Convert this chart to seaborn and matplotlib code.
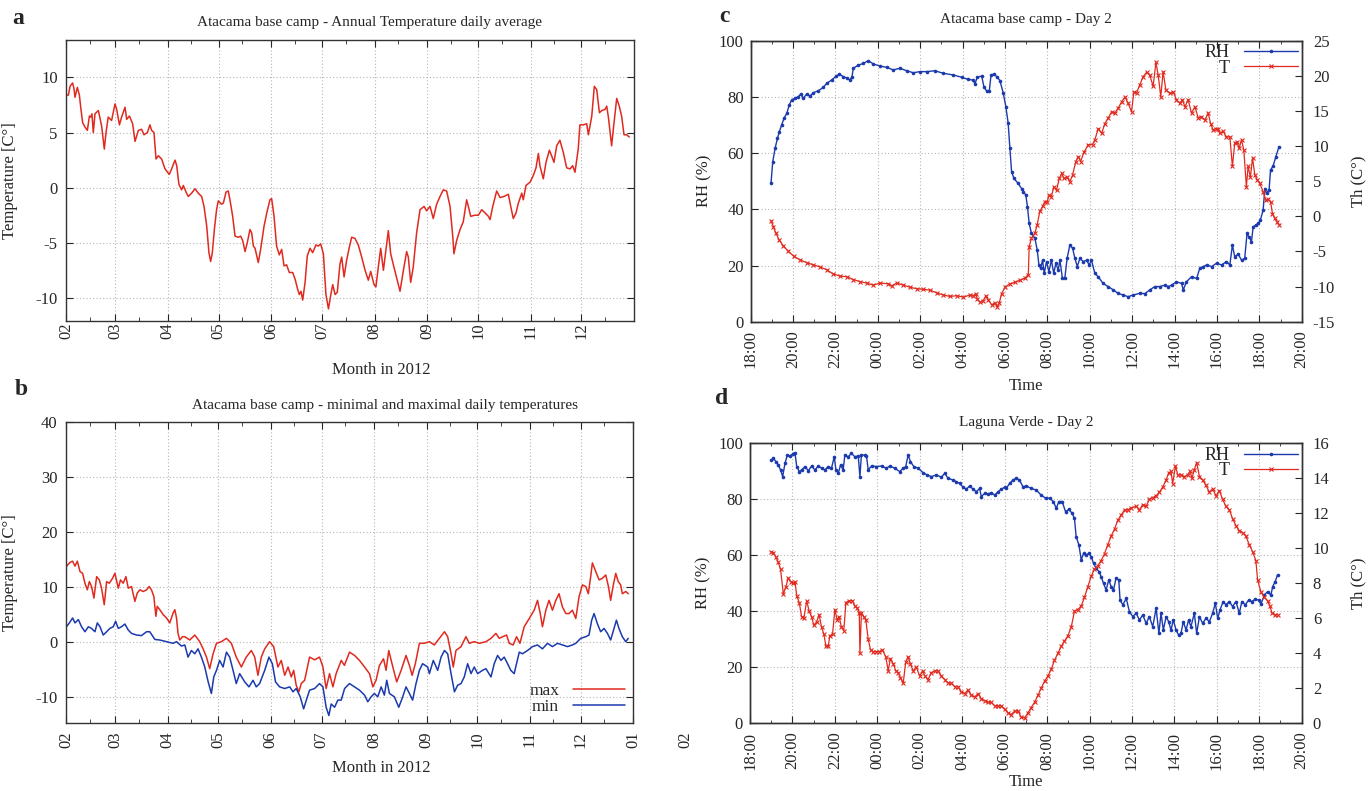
import numpy as np
import pandas as pd
import matplotlib
matplotlib.use("Agg")
import matplotlib.pyplot as plt
import matplotlib.transforms as mtransforms
from matplotlib.lines import Line2D
import seaborn as sns

# ---------------- data: panel a (daily average, days since 2012-02-01) -------------
a_day = [0, 1.4, 2.4, 3.9, 4.7, 5.3, 6.7, 7.9, 8.6, 9.8,
         11.2, 12.6, 13.8, 14.5, 15.3, 16.1, 17.1, 19.1, 21.0, 22.6,
         23.6, 24.9, 26.9, 28.9, 29.9, 31.5, 32.8, 34.8, 35.8, 37.4,
         39.3, 40.7, 42.7, 44.6, 46.0, 48.0, 49.5, 50.5, 51.9, 53.1,
         54.5, 56.4, 58.4, 60.9, 62.3, 64.3, 65.3, 66.6, 68.2, 69.2,
         70.8, 72.1, 74.1, 76.1, 78.0, 80.0, 81.4, 83.0, 84.3, 85.3,
         86.3, 87.5, 88.8, 89.8, 91.8, 92.8, 94.4, 95.7, 96.7, 98.3,
         99.7, 101.6, 103.0, 104.2, 105.6, 106.9, 108.5, 109.5, 110.5, 111.5,
         113.4, 114.8, 116.8, 118.4, 120.3, 121.3, 122.7, 124.2, 125.8, 127.2,
         128.6, 130.1, 131.7, 133.7, 135.1, 136.6, 137.6, 138.6, 139.6, 141.0,
         142.3, 143.9, 145.5, 147.4, 148.8,
         150.2, 151.8, 153.3, 154.8, 156.2, 157.3, 158.7, 160.0, 161.6, 162.6,
         164.0, 165.5, 167.1, 168.5, 170.4, 172.4, 174.4, 176.4, 178.3, 179.7,
         181.7, 182.8, 184.2, 185.6, 187.2, 188.7, 190.1, 191.5, 193.4, 195.4,
         197.0, 199.0, 200.9, 201.9, 203.3, 204.8, 206.8, 208.8, 211.2, 212.7,
         214.7, 216.6, 218.6, 220.6, 222.5, 224.5, 226.5, 228.1, 228.8, 230.4,
         232.4, 234.3, 236.3, 237.3, 238.7, 241.2, 243.2, 245.2, 247.2, 249.1,
         250.1, 251.7, 254.0, 256.0, 258.3, 260.9, 262.3, 263.8, 265.4, 266.8,
         268.8, 269.7, 271.3, 273.7, 275.6, 277.2, 278.6, 279.5, 281.5, 283.1,
         285.1, 286.4, 287.8, 289.4, 291.3, 293.3, 295.3, 297.3, 298.8, 300.2,
         302.1, 303.1, 305.1,
         307.1, 308.1, 310.1, 311.6, 313.0, 314.6, 316.0, 317.9, 318.9, 319.9,
         320.9, 321.8, 322.8, 324.8, 326.3, 327.7, 329.1, 330.7, 332.2]
a_temp = [8.4, 8.4, 9.2, 9.5, 9.0, 8.2, 9.1, 8.4, 7.4, 5.9,
          5.5, 5.2, 6.5, 6.4, 6.7, 5.0, 6.7, 7.0, 5.6, 3.5,
          5.0, 6.4, 6.1, 7.6, 7.1, 5.7, 6.4, 7.3, 6.2, 6.5,
          5.8, 4.2, 5.2, 5.3, 4.8, 5.0, 5.7, 5.2, 5.0, 2.6,
          2.9, 2.6, 1.7, 1.2, 1.7, 2.5, 2.0, 0.3, -0.2, 0.2,
          -0.4, -0.8, -0.5, -0.1, -0.5, -0.8, -1.7, -3.5, -5.9, -6.7,
          -5.9, -3.8, -2.0, -1.2, -1.5, -1.4, -0.4, -0.3, -1.1, -2.6,
          -4.4, -4.5, -4.4, -4.8, -5.8, -5.0, -3.8, -4.1, -5.3, -5.5,
          -6.8, -5.6, -3.5, -2.3, -1.1, -1.0, -2.6, -5.3, -6.1, -5.6,
          -7.1, -7.0, -7.7, -7.7, -8.3, -9.2, -9.7, -9.4, -10.2, -8.6,
          -6.2, -5.5, -5.9, -5.2, -5.3,
          -5.1, -6.0, -9.7, -11.0, -9.7, -8.8, -9.7, -9.5, -6.9, -6.3,
          -8.1, -6.6, -5.4, -4.5, -4.6, -5.2, -6.3, -7.5, -8.4, -7.6,
          -8.8, -9.0, -7.2, -5.5, -7.5, -5.6, -3.9, -6.0, -7.2, -8.4,
          -9.4, -7.5, -5.8, -6.3, -8.6, -7.2, -4.1, -2.0, -1.7, -2.1,
          -1.7, -2.8, -1.5, -0.8, -0.2, -0.3, -1.7, -4.4, -6.0, -4.8,
          -3.8, -3.1, -1.1, -1.7, -2.6, -2.5, -2.5, -2.0, -2.3, -2.6,
          -2.9, -1.7, -0.3, -0.9, -0.8, -0.6, -1.7, -2.8, -2.3, -1.4,
          -0.5, -1.1, 0.2, 0.5, 1.1, 1.8, 3.1, 2.0, 0.8, 2.3,
          3.4, 2.9, 2.3, 3.8, 4.3, 3.2, 1.8, 1.7, 2.0, 1.4,
          3.5, 5.7, 5.7,
          5.8, 4.8, 6.5, 9.2, 8.9, 6.8, 7.0, 7.1, 7.4, 6.4,
          5.0, 3.8, 5.3, 8.1, 7.4, 6.5, 4.8, 4.8, 4.6]

# ---------------- data: panel b (daily max / min) -------------
b_max_day = [0.4, 2.4, 3.9, 5.3, 6.7, 8.3, 9.8, 11.2, 12.6, 13.8,
             15.1, 16.5, 18.1, 19.7, 21.0, 22.6, 24.0, 25.6, 27.5, 28.9,
             30.9, 32.2, 33.8, 35.4, 36.8, 38.7, 40.7, 42.1, 43.6, 45.6,
             47.6, 49.1, 50.5, 51.9, 53.1, 53.9, 55.4, 57.4, 59.4, 61.3,
             63.3, 64.3, 65.3, 66.2, 67.2, 68.8, 70.2, 73.1, 76.1, 79.0,
             81.0, 83.0, 84.9, 86.9, 88.9, 91.8, 94.8, 97.7, 100.6, 103.6,
             106.5, 109.5, 111.5, 113.4, 115.4, 117.4, 120.3, 122.7, 125.2, 127.2,
             129.2, 131.2, 133.1, 134.5, 136.0, 137.6, 139.0, 141.0,
             143.9, 146.9, 149.8, 151.8, 153.7, 155.7, 157.7, 159.6, 162.6, 164.5,
             167.5, 170.5, 173.4, 176.4, 179.3, 181.3, 183.2, 185.2, 187.6, 189.1,
             190.7, 193.1, 195.4, 198.0, 200.9, 202.9, 204.5, 206.4, 208.8, 211.7,
             214.7, 217.6, 220.6, 223.6, 225.5, 227.5, 228.8, 230.4, 233.4, 236.3,
             238.3, 241.2, 244.2, 248.1, 251.1, 254.0, 256.0, 258.0, 260.3, 261.9,
             264.2, 266.2, 268.2, 270.7, 273.7, 276.6, 278.6, 280.2, 281.5, 283.5,
             285.4, 287.4, 289.4, 291.3, 293.3, 295.3, 297.2, 299.2, 301.2, 303.1,
             305.1, 307.1, 308.6, 310.0, 311.0, 313.0, 315.0, 316.9, 318.9, 320.5,
             321.8, 323.2, 324.8, 326.3, 327.7, 328.7, 330.7, 332.2]
b_max = [13.8, 14.5, 14.7, 13.8, 14.7, 12.8, 12.5, 10.7, 9.5, 11.0,
         10.1, 8.0, 11.9, 11.3, 9.8, 6.8, 11.0, 10.7, 11.6, 12.5,
         9.8, 11.3, 10.7, 11.9, 9.8, 10.1, 7.4, 8.9, 9.5, 9.2,
         9.5, 10.1, 9.5, 8.3, 4.7, 6.5, 5.9, 5.0, 4.4, 3.5,
         5.3, 5.9, 4.4, 1.6, 0.4, 1.0, 1.0, 0.4, 1.3, 0.1,
         -1.2, -2.7, -4.8, -2.1, -0.2, 0.1, 0.7, -0.2, -2.7, -4.5,
         -2.7, -1.5, -2.7, -6.0, -2.7, -1.2, 0.1, -0.8, -4.5, -3.3,
         -6.0, -4.5, -6.3, -5.1, -7.8, -9.0, -7.5, -6.9,
         -2.7, -3.2, -2.7, -4.5, -8.4, -5.7, -8.1, -5.7, -3.3, -4.2,
         -1.8, -2.4, -3.3, -4.5, -5.7, -8.1, -6.9, -4.2, -3.0, -5.1,
         -1.5, -4.5, -7.2, -5.1, -2.4, -4.2, -6.0, -3.9, -0.2, -0.2,
         0.1, -0.5, 0.7, 1.9, 1.0, -2.1, -4.5, -1.5, -0.8, 1.0,
         -0.2, 0.1, -0.2, 0.1, 0.7, 1.6, 0.7, 1.0, 1.3, -0.2,
         -0.5, 1.0, -0.2, 2.8, 4.3, 5.8, 7.6, 5.2, 2.8, 5.8,
         7.6, 5.8, 7.6, 8.8, 6.4, 5.2, 5.2, 5.8, 4.3, 8.2,
         10.4, 10.1, 8.8, 11.9, 14.4, 12.8, 11.3, 11.6, 12.2, 10.1,
         7.6, 10.1, 12.5, 11.0, 10.4, 8.8, 9.2, 8.8]

b_min_day = [0, 2.0, 3.9, 5.3, 7.3, 9.2, 11.2, 13.2, 15.1, 17.1,
             18.5, 20.1, 22.0, 24.0, 25.9, 27.9, 29.3, 30.9, 32.8, 34.8,
             36.8, 38.7, 41.7, 44.6, 47.6,
             49.5, 52.5, 55.4, 59.4, 63.3, 65.3, 68.2, 70.2, 72.1, 74.1,
             76.1, 78.0, 80.0, 82.0, 84.0, 85.9, 87.3, 88.9, 90.8, 92.8,
             94.8, 96.7, 98.7, 100.6, 102.6, 105.6, 108.1, 110.5, 112.4, 114.4,
             117.4, 119.9, 121.9, 123.8, 126.2, 129.2, 132.2, 134.1, 136.0, 138.4,
             140.4, 142.0, 143.9, 146.9, 149.8, 151.8, 153.7, 155.3, 156.7, 158.7,
             160.6, 162.6, 164.6, 167.5, 170.5, 173.4, 176.4, 178.3, 180.3, 182.2,
             184.2, 186.2, 188.1, 189.5, 191.1, 194.0, 196.6, 198.6, 200.9, 202.9,
             204.8, 206.8, 208.8, 210.7, 213.7,
             214.7, 217.0, 219.6, 221.6, 223.6, 225.5, 227.5, 229.5, 231.4, 233.4,
             235.3, 237.3, 239.3, 241.2, 243.2, 246.1, 248.1, 251.1, 253.0, 255.0,
             257.0, 258.9, 260.9, 262.8, 264.8, 266.2, 267.8, 269.7, 272.7, 275.6,
             278.6, 281.5, 284.5, 287.4, 290.4, 293.3, 296.3, 299.2, 301.2, 304.1,
             307.1, 309.0, 310.6, 312.0, 313.9, 315.9, 317.9, 319.9, 321.8, 323.8,
             325.2, 326.7, 328.7, 330.7, 332.2]
b_min = [2.7, 3.5, 4.4, 3.5, 4.1, 2.8, 1.9, 2.8, 2.5, 1.9,
         3.5, 2.8, 1.3, 1.9, 2.5, 2.8, 3.8, 2.5, 2.8, 3.3,
         2.2, 1.6, 1.3, 1.2, 1.9,
         1.9, 0.5, 0.4, 0.1, -0.2, 0.1, -0.7, -0.5, -2.7, -1.5,
         -2.1, -1.2, -2.7, -4.5, -7.2, -9.3, -6.3, -5.1, -3.3, -4.5,
         -1.8, -2.7, -5.1, -7.5, -5.7, -7.2, -8.1, -6.9, -8.1, -7.5,
         -5.1, -2.7, -3.9, -7.2, -8.1, -8.4, -8.1, -9.0, -8.4, -9.9,
         -12.1, -10.5, -8.7, -8.4, -7.5, -8.1, -11.8, -13.3, -11.2, -11.8,
         -10.5, -10.5, -8.4, -7.5, -8.1, -8.7, -9.6, -10.8, -9.9, -9.3,
         -9.9, -8.1, -9.6, -6.9, -9.3, -9.9, -11.8, -10.2, -8.1, -9.3,
         -10.5, -7.5, -5.1, -3.9, -4.5,
         -5.7, -3.3, -5.1, -2.7, -1.5, -2.1, -5.7, -9.0, -7.8, -7.5,
         -6.3, -3.9, -5.7, -4.5, -5.7, -5.1, -4.8, -6.3, -3.9, -2.4,
         -3.3, -2.7, -3.9, -5.1, -5.7, -3.9, -1.8, -2.1, -1.5, -0.8,
         -0.5, -1.2, -0.2, -0.8, -0.2, -0.5, -0.8, -0.5, -0.2, 0.7,
         1.0, 1.3, 4.0, 5.2, 3.4, 1.9, 2.5, 1.6, 0.4, 2.5,
         4.0, 2.5, 1.0, 0.1, 0.7]

a_month_labels = ['02', '03', '04', '05', '06', '07', '08', '09', '10', '11', '12']
b_month_labels = ['02', '03', '04', '05', '06', '07', '08', '09', '10', '11', '12', '01']
b_extra_label = '02'

# ---------------- data: panel c (Atacama base camp, hours since 18:00) -------------
c_rh_h = [0.96, 1.04, 1.15, 1.26, 1.35, 1.46, 1.57, 1.70, 1.82, 1.93,
          2.09, 2.25, 2.36, 2.48, 2.64, 2.80, 2.96, 3.19, 3.43, 3.58,
          3.82, 4.03, 4.18, 4.37, 4.56, 4.69, 4.78, 4.84, 5.08, 5.31,
          5.55, 5.79, 6.10, 6.42, 6.73, 7.04, 7.36, 7.67, 7.99, 8.30,
          8.69, 9.09, 9.56, 9.95, 10.27, 10.50, 10.58, 10.69, 10.90, 11.01,
          11.13, 11.26, 11.34, 11.48, 11.64, 11.76, 11.92, 12.04, 12.15, 12.23,
          12.31, 12.42, 12.62, 12.78, 12.86, 12.98, 13.06, 13.14, 13.25, 13.41,
          13.52, 13.60, 13.68, 13.77, 13.85, 13.96, 14.07, 14.19, 14.30, 14.40,
          14.51, 14.59, 14.71, 14.82, 14.93, 15.06, 15.19, 15.30, 15.41, 15.53,
          15.69, 15.85, 15.97, 16.08, 16.24, 16.40, 16.63, 16.87, 17.11, 17.34,
          17.58, 17.81, 18.05, 18.36, 18.60, 18.83, 19.07, 19.30, 19.54, 19.70,
          19.86, 20.09, 20.33, 20.41, 20.56, 20.80, 21.04, 21.19, 21.35, 21.51,
          21.75, 21.98, 22.22, 22.45, 22.61, 22.73, 22.84, 23.00, 23.16, 23.31,
          23.42, 23.52, 23.63, 23.71, 23.84, 23.95, 24.05, 24.18, 24.26, 24.34,
          24.46, 24.53, 24.65, 24.78, 24.93]
c_rh = [49.5, 56.9, 61.7, 65.2, 67.6, 70.0, 72.4, 74.1, 77.1, 78.9,
        79.5, 80.1, 81.0, 79.5, 81.0, 80.3, 81.5, 82.2, 83.4, 84.8,
        86.0, 87.4, 88.1, 87.2, 86.6, 86.0, 87.2, 90.2, 91.3, 91.9,
        92.9, 91.7, 91.0, 90.5, 89.6, 90.2, 89.3, 88.6, 89.0, 89.0,
        89.3, 88.4, 87.8, 87.0, 86.2, 86.0, 84.6, 87.0, 87.4, 83.4,
        82.2, 82.2, 87.8, 88.1, 87.0, 85.8, 81.3, 76.5, 70.6, 61.7,
        53.4, 51.0, 49.2, 47.4, 46.3, 45.1, 40.9, 35.0, 31.4, 29.7,
        25.5, 20.2, 19.0, 21.9, 17.2, 21.4, 17.8, 21.9, 17.2, 20.8,
        18.4, 21.9, 15.4, 15.4, 22.5, 27.3, 26.1, 22.5, 19.6, 22.5,
        21.4, 21.9, 20.2, 21.9, 17.2, 16.0, 13.6, 12.5, 11.3, 10.1,
        9.5, 8.9, 9.5, 10.1, 10.0, 11.3, 12.5, 12.5, 13.0, 12.5,
        13.0, 14.2, 13.6, 11.3, 14.2, 16.0, 15.4, 19.0, 19.6, 20.2,
        19.6, 20.8, 20.2, 21.4, 20.2, 27.3, 23.1, 24.1, 21.9, 22.5,
        31.4, 30.0, 28.5, 33.8, 34.4, 35.0, 36.2, 39.7, 47.4, 45.7,
        46.9, 54.0, 55.4, 58.7, 62.3]
c_t_h = [0.96, 1.07, 1.19, 1.35, 1.54, 1.78, 2.04, 2.33, 2.64, 2.96,
         3.27, 3.58, 3.90, 4.21, 4.53, 4.84, 5.16, 5.47, 5.79, 6.10,
         6.49, 6.65, 6.89, 7.20, 7.52, 7.83, 8.14, 8.46, 8.77, 9.09,
         9.40, 9.72, 10.03, 10.35, 10.50, 10.63, 10.69, 10.82, 10.97, 11.10,
         11.21, 11.37, 11.53, 11.64, 11.73, 11.84, 12.00, 12.23, 12.47, 12.70,
         12.94, 13.10, 13.14, 13.25, 13.41, 13.52, 13.64, 13.77, 13.88, 13.99,
         14.08, 14.19, 14.30, 14.43, 14.56, 14.67, 14.78, 14.93, 15.06, 15.19,
         15.34, 15.46, 15.57, 15.72, 15.93, 16.13, 16.24, 16.40, 16.56, 16.71,
         16.87, 17.03, 17.18, 17.34, 17.50, 17.66, 17.81, 17.97, 18.08, 18.21,
         18.36, 18.52, 18.68, 18.83, 18.99, 19.12, 19.23, 19.35, 19.46, 19.59,
         19.78, 19.94, 20.09, 20.25, 20.37, 20.49, 20.64, 20.80, 20.96, 21.12,
         21.27, 21.43, 21.59, 21.70, 21.82, 21.95, 22.05, 22.14, 22.29, 22.45,
         22.61, 22.73, 22.84, 22.95, 23.05, 23.16, 23.27, 23.39, 23.47, 23.58,
         23.68, 23.79, 23.90, 24.02, 24.18, 24.31, 24.42, 24.53, 24.62, 24.73,
         24.84, 24.93]
c_t = [-0.6, -1.5, -2.4, -3.4, -4.2, -5.0, -5.7, -6.2, -6.6, -6.9,
       -7.2, -7.6, -8.2, -8.5, -8.6, -9.0, -9.3, -9.5, -9.8, -9.5,
       -9.6, -9.9, -9.5, -9.8, -10.1, -10.3, -10.4, -10.5, -10.9, -11.2,
       -11.4, -11.3, -11.5, -11.2, -11.3, -11.0, -11.8, -12.2, -12.0, -11.3,
       -11.9, -12.6, -12.3, -12.9, -12.3, -11.0, -10.1, -9.6, -9.4, -9.1,
       -8.8, -8.3, -4.3, -3.1, -2.4, -1.2, 0.7, 1.4, 2.1, 2.1,
       3.0, 2.8, 4.2, 3.7, 5.4, 6.1, 5.4, 5.6, 4.9, 5.9,
       7.8, 8.5, 7.8, 9.1, 10.2, 10.2, 10.9, 12.5, 11.8, 13.2,
       14.0, 14.9, 14.7, 15.4, 16.3, 17.0, 16.1, 14.9, 17.7, 17.6,
       18.7, 19.9, 20.5, 20.1, 18.5, 21.9, 20.1, 17.0, 20.6, 18.0,
       17.5, 17.7, 16.6, 16.1, 16.6, 15.6, 16.6, 14.7, 15.6, 14.0,
       14.2, 13.7, 14.7, 13.2, 12.3, 12.5, 12.5, 11.8, 12.1, 11.3,
       11.3, 7.1, 10.4, 10.6, 9.7, 10.9, 9.4, 4.2, 7.1, 5.6,
       8.3, 5.9, 5.2, 4.7, 3.5, 2.3, 2.4, 2.1, 0.4, -0.3,
       -0.8, -1.2]

# ---------------- data: panel d (Laguna Verde, hours since 18:00) -------------
d_rh_h = [0.99, 1.10, 1.22, 1.33, 1.44, 1.54, 1.65, 1.76, 1.88, 2.01,
          2.12, 2.20, 2.32, 2.43, 2.59, 2.75, 2.90, 3.06, 3.22, 3.37,
          3.53, 3.69, 3.84, 3.97, 4.05, 4.16, 4.27, 4.39, 4.47, 4.63,
          4.78, 4.94, 5.10, 5.18, 5.25, 5.41, 5.49, 5.57, 5.73, 5.96,
          6.20, 6.43, 6.59, 6.82, 7.06, 7.22, 7.34, 7.45, 7.56, 7.72,
          7.92, 8.16, 8.35, 8.55, 8.78, 9.02, 9.18, 9.33, 9.57, 9.73,
          9.88, 10.04, 10.20, 10.35, 10.51, 10.67, 10.82, 10.90, 11.06, 11.22,
          11.37, 11.53, 11.69, 11.84, 12.00, 12.08, 12.24, 12.39, 12.55, 12.70,
          12.86, 13.02, 13.25, 13.49, 13.72, 13.93, 14.12, 14.30, 14.43, 14.56,
          14.71, 14.87, 15.03, 15.18, 15.29, 15.37, 15.50, 15.61, 15.72, 15.84,
          15.97, 16.08, 16.19, 16.31, 16.44, 16.55, 16.66, 16.78, 16.91, 17.02,
          17.13, 17.25, 17.38, 17.44, 17.57, 17.73, 17.88, 18.04, 18.20, 18.35,
          18.51, 18.67, 18.82, 18.98, 19.14, 19.27, 19.37, 19.48, 19.61, 19.73,
          19.84, 19.95, 20.08, 20.20, 20.31, 20.42, 20.55, 20.67, 20.78, 20.94,
          21.05, 21.18, 21.33, 21.49, 21.65, 21.80, 21.93, 22.04, 22.15, 22.30,
          22.43, 22.59, 22.74, 22.90, 23.06, 23.18, 23.34, 23.50, 23.65, 23.81,
          23.97, 24.08, 24.24, 24.39, 24.55, 24.63, 24.75, 24.86]
d_rh = [94.0, 94.6, 93.5, 92.3, 90.5, 88.1, 92.9, 95.8, 95.5, 96.2,
        96.7, 91.7, 89.9, 90.5, 91.7, 90.2, 91.9, 90.5, 91.9, 91.1,
        90.5, 91.7, 91.1, 95.2, 90.5, 89.3, 92.3, 90.5, 95.8, 95.2,
        96.4, 95.2, 95.5, 88.1, 95.8, 95.8, 95.5, 90.5, 91.9, 91.7,
        91.9, 91.1, 91.9, 91.1, 89.9, 91.1, 91.7, 95.8, 93.5, 91.7,
        91.1, 89.5, 88.7, 88.1, 88.7, 87.9, 89.3, 87.5, 86.9, 86.3,
        85.7, 84.3, 83.6, 84.8, 83.6, 82.7, 83.9, 81.0, 82.1, 81.9,
        82.4, 81.5, 82.7, 83.6, 84.3, 83.9, 85.7, 86.9, 87.5, 86.9,
        84.5, 84.8, 83.9, 83.3, 81.5, 80.4, 80.4, 79.2, 76.8, 79.2,
        79.2, 75.6, 76.4, 75.0, 73.2, 66.7, 63.7, 58.3, 60.7, 60.1,
        60.7, 59.5, 57.1, 55.4, 54.2, 52.4, 50.0, 47.6, 51.2, 48.8,
        47.6, 51.8, 51.2, 44.0, 42.3, 44.6, 39.9, 38.1, 39.3, 36.9,
        38.7, 35.7, 38.1, 34.5, 41.1, 32.1, 39.3, 33.3, 38.1, 36.3,
        33.3, 36.9, 33.3, 31.5, 32.1, 36.3, 33.3, 36.9, 34.5, 39.3,
        32.1, 38.1, 35.7, 37.5, 36.3, 39.3, 42.9, 37.5, 40.5, 43.5,
        42.3, 43.5, 41.7, 43.5, 39.3, 43.5, 42.3, 44.0, 43.5, 44.3,
        44.0, 42.6, 45.8, 47.0, 45.8, 48.8, 50.6, 53.0]
d_t_h = [0.99, 1.10, 1.22, 1.33, 1.44, 1.57, 1.69, 1.80, 1.91, 2.04,
         2.12, 2.20, 2.32, 2.43, 2.54, 2.67, 2.79, 2.90, 3.01, 3.14,
         3.26, 3.37, 3.48, 3.58, 3.69, 3.76, 3.89, 4.00, 4.11, 4.20,
         4.31, 4.42, 4.52, 4.67, 4.83, 4.94, 5.05, 5.15, 5.18, 5.25,
         5.36, 5.46, 5.57, 5.68, 5.80, 5.96, 6.09, 6.24, 6.40, 6.51,
         6.62, 6.75, 6.87, 6.98, 7.09, 7.22, 7.34, 7.45, 7.56, 7.69,
         7.84, 8.00, 8.13, 8.24, 8.39, 8.55, 8.71, 8.86, 9.02, 9.18,
         9.33, 9.49, 9.65, 9.80, 9.96, 10.12, 10.27, 10.43, 10.59, 10.75,
         10.90, 11.06, 11.22, 11.37, 11.53, 11.69, 11.84, 12.00, 12.16, 12.31,
         12.47, 12.63, 12.78, 12.94, 13.10, 13.25, 13.41, 13.57, 13.72, 13.88,
         14.04, 14.20, 14.35, 14.51, 14.67, 14.82, 14.98, 15.14, 15.29, 15.45,
         15.61, 15.76, 15.92, 16.08, 16.23, 16.39, 16.55, 16.71, 16.86, 17.02,
         17.18, 17.33, 17.49, 17.65, 17.80, 17.96, 18.20, 18.35, 18.51, 18.67,
         18.82, 18.98, 19.14, 19.29, 19.45, 19.61, 19.73, 19.84, 19.92, 20.05,
         20.16, 20.31, 20.47, 20.63, 20.74, 20.83, 20.94, 21.05, 21.18, 21.33,
         21.49, 21.65, 21.80, 21.96, 22.12, 22.27, 22.43, 22.59, 22.74, 22.90,
         23.06, 23.22, 23.37, 23.53, 23.69, 23.84, 23.92, 24.08, 24.24, 24.39,
         24.50, 24.60, 24.75, 24.86]
d_t = [9.8, 9.75, 9.5, 9.2, 8.8, 7.4, 7.8, 8.3, 8.1, 8.0,
       8.1, 7.3, 6.9, 6.1, 6.0, 7.0, 6.4, 6.1, 5.6, 5.8,
       6.2, 5.5, 5.1, 4.4, 4.4, 5.0, 5.1, 6.5, 5.9, 6.1,
       5.5, 5.3, 6.9, 7.0, 7.0, 6.7, 6.6, 6.3, 4.0, 6.3,
       6.1, 5.9, 4.8, 4.2, 4.1, 4.1, 4.1, 4.2, 3.8, 3.0,
       3.7, 3.4, 3.0, 2.9, 2.6, 2.3, 3.5, 3.8, 3.4, 3.0,
       3.2, 2.7, 3.0, 2.7, 2.5, 2.9, 3.0, 3.0, 2.7, 2.5,
       2.3, 2.3, 2.1, 2.1, 1.8, 1.7, 1.9, 1.6, 1.5, 1.7,
       1.4, 1.3, 1.2, 1.2, 1.0, 1.0, 1.0, 0.8, 0.6, 0.5,
       0.7, 0.7, 0.35, 0.3, 0.6, 0.9, 1.2, 1.6, 2.0, 2.4,
       2.7, 3.1, 3.6, 4.0, 4.4, 4.7, 5.0, 5.5, 6.4, 6.5,
       6.7, 7.2, 7.8, 8.4, 8.8, 9.0, 9.3, 9.7, 10.2, 10.7,
       11.1, 11.6, 11.9, 12.2, 12.2, 12.3, 12.4, 12.2, 12.5, 12.4,
       12.8, 12.9, 13.0, 13.2, 13.5, 13.9, 14.3, 14.4, 13.7, 14.7,
       14.2, 14.2, 14.1, 14.2, 14.4, 14.0, 14.5, 14.9, 14.1, 13.9,
       13.6, 13.2, 13.4, 13.0, 13.3, 12.8, 12.4, 12.2, 11.7, 11.3,
       11.0, 10.9, 10.7, 10.2, 9.8, 9.3, 8.2, 7.5, 7.2, 7.0,
       6.7, 6.3, 6.2, 6.2]

time_labels = ['18:00', '20:00', '22:00', '00:00', '02:00', '04:00', '06:00',
               '08:00', '10:00', '12:00', '14:00', '16:00', '18:00', '20:00']

# ---------------- style -------------
sns.set_style("ticks")
plt.rcParams['font.family'] = ['Liberation Serif', 'DejaVu Serif']
plt.rcParams['axes.unicode_minus'] = False
RED = '#e02a1f'
BLUE = '#1b3aad'
GRID = dict(color='#b5b5b5', linestyle=(0, (1, 2)), linewidth=0.8)
TICK_FS = 12
LAB_FS = 12
TITLE_FS = 11

W, H = 1368, 791
fig = plt.figure(figsize=(W / 100, H / 100), dpi=100)


def px_axes(left, top, right, bottom):
    return fig.add_axes([left / W, 1 - bottom / H, (right - left) / W, (bottom - top) / H])


def style_frame(ax):
    for sp in ax.spines.values():
        sp.set_color('#333333')
        sp.set_linewidth(1.0)
        sp.set_visible(True)


base = pd.Timestamp('2012-02-01')


def to_dates(days):
    return base + pd.to_timedelta(np.asarray(days, dtype=float), unit='D')


# ================= panel a =================
ax_a = px_axes(66, 40, 634, 321)
sns.lineplot(x=to_dates(a_day), y=a_temp, ax=ax_a, color=RED, linewidth=1.1,
             estimator=None, sort=False)
ax_a.set_xlim(base, pd.Timestamp('2013-01-01'))
ax_a.set_ylim(-12.1, 13.4)
a_ticks = pd.date_range(base, periods=len(a_month_labels), freq='MS')
ax_a.set_xticks(a_ticks)
ax_a.set_xticklabels(a_month_labels, rotation=90, fontsize=TICK_FS)
ax_a.set_xticks(a_ticks + pd.Timedelta(days=14), minor=True)
ax_a.set_yticks([-10, -5, 0, 5, 10])
ax_a.tick_params(axis='y', labelsize=TICK_FS)
ax_a.tick_params(which='both', direction='in', top=True, right=True)
ax_a.tick_params(axis='x', which='major', pad=1, length=5)
ax_a.tick_params(axis='x', which='minor', length=3)
ax_a.tick_params(axis='y', pad=6, length=5)
ax_a.grid(True, which='major', **GRID)
style_frame(ax_a)
ax_a.set_xlabel('Month in 2012', fontsize=LAB_FS)
ax_a.xaxis.set_label_coords(0.555, -0.146)
ax_a.set_ylabel('Temperature [C°]', fontsize=LAB_FS)
ax_a.yaxis.set_label_coords(-0.085, 0.5)
ax_a.text(0.535, 1.064, 'Atacama base camp - Annual Temperature daily average',
          transform=ax_a.transAxes, ha='center', va='center', fontsize=TITLE_FS)

# ================= panel b =================
ax_b = px_axes(66, 421.7, 633, 722.7)
sns.lineplot(x=to_dates(b_max_day), y=b_max, ax=ax_b, color=RED, linewidth=1.1,
             estimator=None, sort=False)
sns.lineplot(x=to_dates(b_min_day), y=b_min, ax=ax_b, color=BLUE, linewidth=1.1,
             estimator=None, sort=False)
ax_b.set_xlim(base, pd.Timestamp('2013-01-01'))
ax_b.set_ylim(-14.6, 40)
b_ticks = pd.date_range(base, periods=len(b_month_labels), freq='MS')
ax_b.set_xticks(b_ticks)
ax_b.set_xticklabels(b_month_labels, rotation=90, fontsize=TICK_FS)
ax_b.set_xticks(b_ticks[:-1] + pd.Timedelta(days=14), minor=True)
ax_b.set_yticks([-10, 0, 10, 20, 30, 40])
ax_b.tick_params(axis='y', labelsize=TICK_FS)
ax_b.tick_params(which='both', direction='in', top=True, right=True)
ax_b.tick_params(axis='x', which='major', pad=6, length=5)
ax_b.tick_params(axis='x', which='minor', length=3)
ax_b.tick_params(axis='y', pad=6, length=5)
ax_b.grid(True, which='major', **GRID)
style_frame(ax_b)
# stray tick label drawn past the right border in the original
extra_x = pd.Timestamp('2013-02-01')
trans_b = mtransforms.blended_transform_factory(ax_b.transData, ax_b.transAxes)
ax_b.text(extra_x, -0.028, b_extra_label, transform=trans_b, rotation=90,
          ha='center', va='top', fontsize=TICK_FS, clip_on=False)
ax_b.set_xlabel('Month in 2012', fontsize=LAB_FS)
ax_b.xaxis.set_label_coords(0.556, -0.124)
ax_b.set_ylabel('Temperature [C°]', fontsize=LAB_FS)
ax_b.yaxis.set_label_coords(-0.085, 0.5)
ax_b.text(0.563, 1.055, 'Atacama base camp - minimal and maximal daily temperatures',
          transform=ax_b.transAxes, ha='center', va='center', fontsize=TITLE_FS)
ax_b.legend(handles=[Line2D([], [], color=RED, lw=1.1),
                     Line2D([], [], color=BLUE, lw=1.1)],
            labels=['max', 'min'], loc='lower right', frameon=False,
            markerfirst=False, fontsize=12.5, handlelength=3.0,
            labelspacing=0.0, borderaxespad=0.25, handletextpad=0.8,
            borderpad=0.2)


# ================= panels c & d =================
def day_panel(box, rh_h, rh, t_h, t, t_lim, t_ticks, title, rh_xlab, th_xlab, time_y):
    ax = px_axes(*box)
    ax2 = ax.twinx()
    sns.lineplot(x=rh_h, y=rh, ax=ax, color=BLUE, linewidth=1.0, marker='o',
                 markersize=2.6, markeredgecolor=BLUE, markeredgewidth=0,
                 estimator=None, sort=False)
    sns.lineplot(x=t_h, y=t, ax=ax2, color=RED, linewidth=0.9, marker='x',
                 markersize=2.6, markeredgecolor=RED, markeredgewidth=0.8,
                 estimator=None, sort=False)
    ax.set_xlim(0, 26)
    ax.set_ylim(0, 100)
    ax2.set_ylim(*t_lim)
    ax.set_xticks(np.arange(len(time_labels)) * 2)
    ax.set_xticklabels(time_labels, rotation=90, fontsize=TICK_FS)
    ax.set_xticks(np.arange(len(time_labels) * 2 - 1), minor=True)
    ax.set_yticks([0, 20, 40, 60, 80, 100])
    ax2.set_yticks(t_ticks)
    ax.tick_params(axis='y', labelsize=TICK_FS, pad=5, length=5, direction='in')
    ax2.tick_params(axis='y', labelsize=TICK_FS, pad=8, length=5, direction='in')
    ax.tick_params(axis='x', which='major', direction='in', top=True, pad=6, length=5)
    ax.tick_params(axis='x', which='minor', direction='in', top=True, length=2.5)
    ax.grid(True, which='major', **GRID)
    style_frame(ax)
    style_frame(ax2)
    ax.set_xlabel('Time', fontsize=LAB_FS)
    ax.xaxis.set_label_coords(0.5, time_y)
    ax.set_ylabel('RH (%)', fontsize=LAB_FS)
    ax.yaxis.set_label_coords(rh_xlab, 0.5)
    ax2.set_ylabel('Th (C°)', fontsize=LAB_FS)
    ax2.yaxis.set_label_coords(th_xlab, 0.5)
    ax.text(0.5, 1.074, title, transform=ax.transAxes, ha='center', va='center',
            fontsize=TITLE_FS)
    ax2.legend(handles=[Line2D([], [], color=BLUE, lw=1.0, marker='o', markersize=2.6,
                               markeredgewidth=0),
                        Line2D([], [], color=RED, lw=0.9, marker='x', markersize=2.6,
                               markeredgewidth=0.8)],
               labels=['RH', 'T'], loc='upper right', frameon=False, markerfirst=False,
               fontsize=13, handlelength=3.0, labelspacing=-0.1, borderaxespad=0.05,
               handletextpad=0.8, numpoints=1, borderpad=0.15)
    return ax, ax2


day_panel((750.7, 40.7, 1301.7, 321.7), c_rh_h, c_rh, c_t_h, c_t,
          (-15, 25), [-15, -10, -5, 0, 5, 10, 15, 20, 25],
          'Atacama base camp - Day 2', -0.07, 1.088, -0.2)
day_panel((750, 443.3, 1301.7, 723.3), d_rh_h, d_rh, d_t_h, d_t,
          (0, 16), [0, 2, 4, 6, 8, 10, 12, 14, 16],
          'Laguna Verde - Day 2', -0.07, 1.088, -0.18)

# panel letters
for letter, (x, y) in {'a': (18, 18), 'b': (21, 389), 'c': (724, 17), 'd': (722, 399)}.items():
    fig.text(x / W, 1 - y / H, letter, fontsize=17, fontweight='bold',
             ha='center', va='center')

fig.savefig('out.png', dpi=100)
